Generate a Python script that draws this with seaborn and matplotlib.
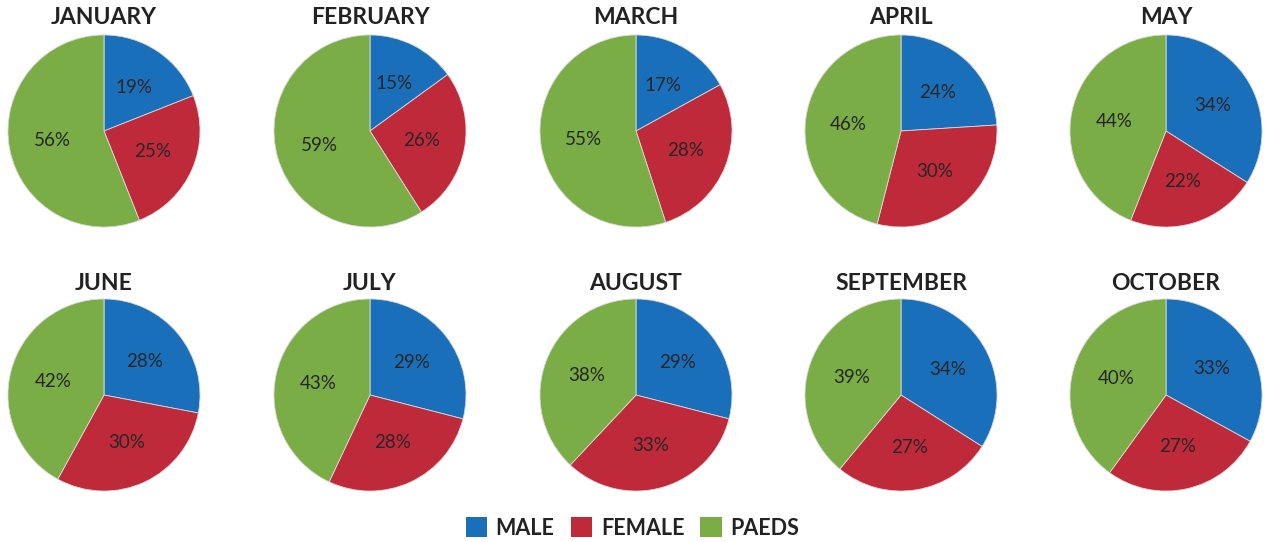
import matplotlib
matplotlib.use("Agg")
import matplotlib.pyplot as plt
from matplotlib.patches import Patch
import seaborn as sns

sns.set_theme(style="white")
plt.rcParams['font.family'] = ['Lato', 'DejaVu Sans']

months = ['JANUARY', 'FEBRUARY', 'MARCH', 'APRIL', 'MAY',
          'JUNE', 'JULY', 'AUGUST', 'SEPTEMBER', 'OCTOBER']
male = [19, 15, 17, 24, 34, 28, 29, 29, 34, 33]
female = [25, 26, 28, 30, 22, 30, 28, 33, 27, 27]
paeds = [56, 59, 55, 46, 44, 42, 43, 38, 39, 40]
groups = ['MALE', 'FEMALE', 'PAEDS']
colors = ['#1a6fbb', '#bf2a3b', '#7aad45']

W, H = 1265, 542
fig = plt.figure(figsize=(W / 100, H / 100), dpi=100)

col_x = [104, 370, 636, 901, 1166]
row_y = [131, 395]
title_y = [18, 283]
r = 97

for i, month in enumerate(months):
    row, col = divmod(i, 5)
    cx, cy = col_x[col], row_y[row]
    ax = fig.add_axes([(cx - r) / W, (H - cy - r) / H, 2 * r / W, 2 * r / H])
    vals = [male[i], female[i], paeds[i]]
    ax.pie(vals, colors=colors, startangle=90, counterclock=False,
           autopct=lambda p: f'{round(p)}%', pctdistance=0.55,
           wedgeprops=dict(linewidth=0.6, edgecolor='#d9d9d9'),
           textprops=dict(fontsize=13.5, color='#262626'))
    ax.set_xlim(-1.01, 1.01)
    ax.set_ylim(-1.01, 1.01)
    ax.set_aspect('equal')
    fig.text(cx / W, 1 - title_y[row] / H, month, ha='center', va='center',
             fontsize=16.5, fontweight='bold', color='#222222')

handles = [Patch(facecolor=c, edgecolor='none') for c in colors]
fig.legend(handles, groups, loc='center', bbox_to_anchor=(0.5, 1 - 528 / H),
           ncol=3, frameon=False, handlelength=1.0, handleheight=1.0,
           handletextpad=0.4, columnspacing=0.75,
           prop=dict(size=15.5, weight='bold'), labelcolor='#222222')

fig.savefig('out.png', dpi=100, facecolor='white')
